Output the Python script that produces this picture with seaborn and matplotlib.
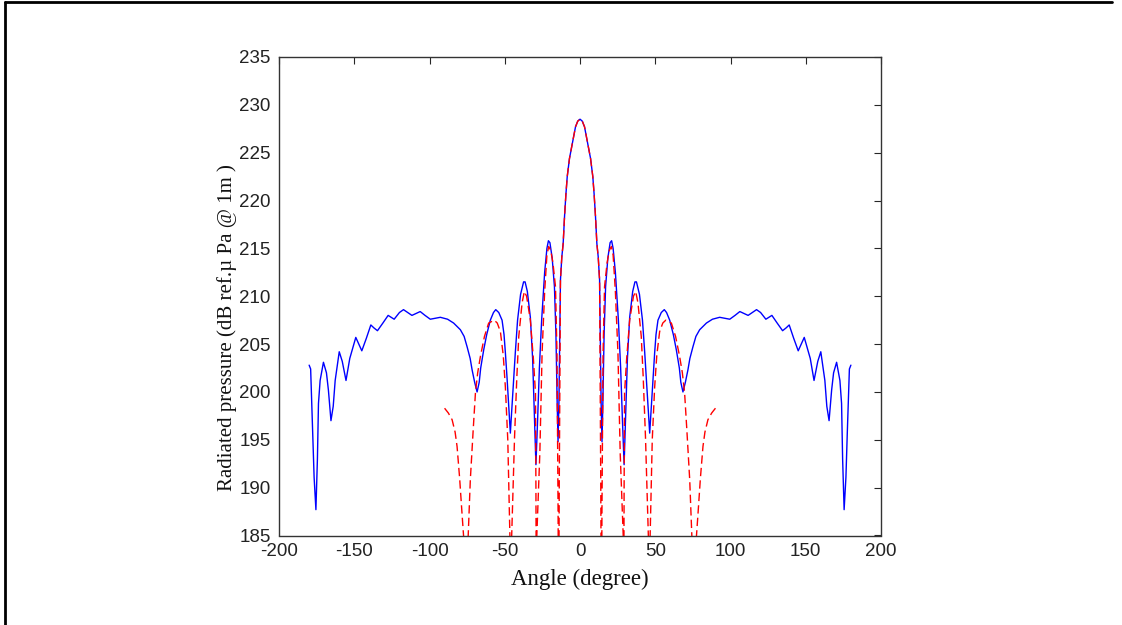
import matplotlib
matplotlib.use("Agg")
import matplotlib.pyplot as plt
import seaborn as sns
import pandas as pd
from matplotlib.lines import Line2D

# ---- data ----
blue_angle = [-180, -179, -177.6, -176.7, -175.5, -174.5, -173.8, -172.7, -170.5, -168.5,
              -167.2, -165.5, -164, -162.7, -160, -158, -155.5, -153, -149, -147,
              -145, -142, -139, -137, -134.6, -131, -127.5, -125.5, -123.5, -120,
              -117.3, -114.5, -111.7, -109, -106.2, -103, -99.5, -96, -92.8, -88,
              -84, -79.5, -77, -75, -73, -71.7, -70, -68.4, -67, -66,
              -64, -62, -59.6, -57.5, -56, -54, -51.8, -50.5, -49.6, -48.5,
              -47.2, -46.3, -45.2, -44, -43, -41.5, -39.5, -37.5, -36.5, -35,
              -33, -31.5, -30.3, -29.3, -28.2, -27, -25.5, -23.5, -22, -21,
              -20, -18.5, -17, -16, -15.2, -14.6, -14, -13, -12.1, -11.2,
              -10.3, -9.4, -8.5, -7, -5.2, -3, -1.5, 0,
              1.5, 3, 5.2, 7, 8.5, 9.4, 10.3, 11.2, 12.1, 13,
              14, 14.6, 15.2, 16, 17, 18.5, 20, 21, 22, 23.5,
              25.5, 27, 28.2, 29.3, 30.3, 31.5, 33, 35, 36.5, 37.5,
              39.5, 41.5, 43, 44, 45.2, 46.3, 47.2, 48.5, 49.6, 50.5,
              51.8, 54, 56, 57.5, 59.6, 62, 64, 66, 67, 68.4,
              70, 71.7, 73, 75, 77, 79.5, 84, 88, 92.8, 96,
              99.5, 103, 106.2, 109, 111.7, 114.5, 117.3, 120, 123.5, 125.5,
              127.5, 131, 134.6, 137, 139, 142, 145, 147, 149, 153,
              155.5, 158, 160, 162.7, 164, 165.5, 167.2, 168.5, 170.5, 172.7,
              173.8, 174.5, 175.5, 176.7, 177.6, 179, 180]
blue_db = [202.8, 202.4, 195.7, 191.1, 187.7, 193.0, 198.8, 201.2, 203.1, 202.0,
           200.2, 197.0, 198.5, 201.2, 204.2, 203.2, 201.2, 203.5, 205.7, 205.0,
           204.3, 205.6, 207.0, 206.7, 206.4, 207.2, 208.0, 207.8, 207.6, 208.3,
           208.6, 208.3, 208.0, 208.2, 208.4, 208.0, 207.6, 207.7, 207.8, 207.6,
           207.2, 206.5, 205.8, 204.7, 203.5, 202.3, 201.0, 200.0, 201.0, 202.5,
           204.4, 206.0, 207.5, 208.3, 208.6, 208.3, 207.5, 206.0, 204.1, 201.5,
           198.0, 195.7, 198.5, 201.5, 204.1, 207.5, 210.2, 211.5, 211.5, 210.5,
           207.8, 203.5, 197.5, 192.4, 197.0, 202.5, 207.5, 212.5, 215.0, 215.8,
           215.6, 214.0, 211.0, 206.0, 199.0, 194.8, 199.0, 211.7, 214.1, 215.5,
           218.3, 220.6, 222.5, 224.4, 225.9, 227.7, 228.3, 228.5,
           228.3, 227.7, 225.9, 224.4, 222.5, 220.6, 218.3, 215.5, 214.1, 211.7,
           199.0, 194.8, 199.0, 206.0, 211.0, 214.0, 215.6, 215.8, 215.0, 212.5,
           207.5, 202.5, 197.0, 192.4, 197.5, 203.5, 207.8, 210.5, 211.5, 211.5,
           210.2, 207.5, 204.1, 201.5, 198.5, 195.7, 198.0, 201.5, 204.1, 206.0,
           207.5, 208.3, 208.6, 208.3, 207.5, 206.0, 204.4, 202.5, 201.0, 200.0,
           201.0, 202.3, 203.5, 204.7, 205.8, 206.5, 207.2, 207.6, 207.8, 207.7,
           207.6, 208.0, 208.4, 208.2, 208.0, 208.3, 208.6, 208.3, 207.6, 207.8,
           208.0, 207.2, 206.4, 206.7, 207.0, 205.6, 204.3, 205.0, 205.7, 203.5,
           201.2, 203.2, 204.2, 201.2, 198.5, 197.0, 200.2, 202.0, 203.1, 201.2,
           198.8, 193.0, 187.7, 191.1, 195.7, 202.4, 202.8]

red_angle = [-90, -87.5, -85, -83, -81.7, -80, -78.5, -77.4, -76, -74.3,
             -72.9, -71, -69.5, -68, -66.2, -63.5, -60.7, -57, -55, -52.9,
             -51, -49.6, -48, -46.6, -46, -45.4, -43.5, -42, -40.7, -38.5,
             -37, -35.5, -33, -31, -29.6, -29.3, -29, -28.7, -26.7, -25.2,
             -23.5, -22, -20.8, -19.5, -18, -16.3, -15.3, -14.6, -14.2, -13.8,
             -13, -12.1, -11.2, -10.3, -9.4, -8.5, -7, -5.2, -3, -1.5, 0,
             1.5, 3, 5.2, 7, 8.5, 9.4, 10.3, 11.2, 12.1, 13,
             13.8, 14.2, 14.6, 15.3, 16.3, 18, 19.5, 20.8, 22, 23.5,
             25.2, 26.7, 28.7, 29, 29.3, 29.6, 31, 33, 35.5, 37,
             38.5, 40.7, 42, 43.5, 45.4, 46, 46.6, 48, 49.6, 51,
             52.9, 55, 57, 60.7, 63.5, 66.2, 68, 69.5, 71, 72.9,
             74.3, 76, 77.4, 78.5, 80, 81.7, 83, 85, 87.5, 90]
red_db = [198.3, 197.8, 197.1, 195.8, 194.3, 191.0, 187.5, 185.0, 175.0, 185.0,
          190.8, 196.0, 199.9, 202.0, 203.7, 205.8, 207.2, 207.5, 207.2, 206.3,
          203.8, 200.5, 195.0, 185.0, 175.0, 185.0, 195.3, 201.5, 205.8, 209.3,
          210.5, 210.0, 207.5, 203.5, 199.9, 190.0, 175.0, 185.0, 193.6, 204.1,
          210.5, 214.3, 215.2, 214.8, 213.5, 211.0, 204.0, 188.0, 175.0, 190.0,
          211.7, 214.1, 215.5, 218.3, 220.6, 222.5, 224.4, 225.9, 227.7, 228.3, 228.5,
          228.3, 227.7, 225.9, 224.4, 222.5, 220.6, 218.3, 215.5, 214.1, 211.7,
          190.0, 175.0, 188.0, 204.0, 211.0, 213.5, 214.8, 215.2, 214.3, 210.5,
          204.1, 193.6, 185.0, 175.0, 190.0, 199.9, 203.5, 207.5, 210.0, 210.5,
          209.3, 205.8, 201.5, 195.3, 185.0, 175.0, 185.0, 195.0, 200.5, 203.8,
          206.3, 207.2, 207.5, 207.2, 205.8, 203.7, 202.0, 199.9, 196.0, 190.8,
          185.0, 175.0, 185.0, 187.5, 191.0, 194.3, 195.8, 197.1, 197.8, 198.3]

x_ticks = [-200, -150, -100, -50, 0, 50, 100, 150, 200]
y_ticks = [185, 190, 195, 200, 205, 210, 215, 220, 225, 230, 235]
x_label = "Angle (degree)"
y_label = "Radiated pressure (dB ref.\u00b5 Pa @ 1m )"

blue_df = pd.DataFrame({"angle": blue_angle, "db": blue_db})
red_df = pd.DataFrame({"angle": red_angle, "db": red_db})

sns.set_theme(style="white")
plt.rcParams["font.family"] = ["Liberation Sans", "DejaVu Sans"]

fig = plt.figure(figsize=(11.22, 6.25), dpi=100)
ax = fig.add_axes([0.2487, 0.1432, 0.5365, 0.7656])

sns.lineplot(data=blue_df, x="angle", y="db", ax=ax, color=(0, 0, 1),
             linewidth=1.0, sort=False, estimator=None)
sns.lineplot(data=red_df, x="angle", y="db", ax=ax, color=(1, 0, 0),
             linewidth=1.0, sort=False, estimator=None, dashes=False)
ax.lines[-1].set_dashes((6, 3))

ax.set_xlim(-200, 200)
ax.set_ylim(185, 235)
ax.set_xticks(x_ticks)
ax.set_yticks(y_ticks)
ax.set_xticklabels([str(t) for t in x_ticks])
ax.set_yticklabels([str(t) for t in y_ticks])
ax.tick_params(direction="in", length=5, width=0.8, top=True, right=True,
               labelsize=13.5, colors="#262626")
ax.tick_params(axis="x", pad=5.5)
ax.tick_params(axis="y", pad=6)
for lbl in ax.get_xticklabels() + ax.get_yticklabels():
    lbl.set_color("#222222")
for sp in ax.spines.values():
    sp.set_color("#333333")
    sp.set_linewidth(1.0)

ax.set_xlabel(x_label, family=["Liberation Serif", "DejaVu Serif"], fontsize=16.5,
              color="#111111", labelpad=6)
ax.set_ylabel(y_label, family=["Liberation Serif", "DejaVu Serif"], fontsize=15,
              color="#111111")
ax.yaxis.set_label_coords(-0.07, 0.435)
ax.grid(False)

# figure border (top and left edges)
fig.add_artist(Line2D([0.0045, 0.9913], [0.9965, 0.9965], transform=fig.transFigure,
                      color="black", linewidth=2.0))
fig.add_artist(Line2D([0.0045, 0.0045], [0.0, 0.9965], transform=fig.transFigure,
                      color="black", linewidth=2.0))

fig.savefig("out.png", dpi=100)
